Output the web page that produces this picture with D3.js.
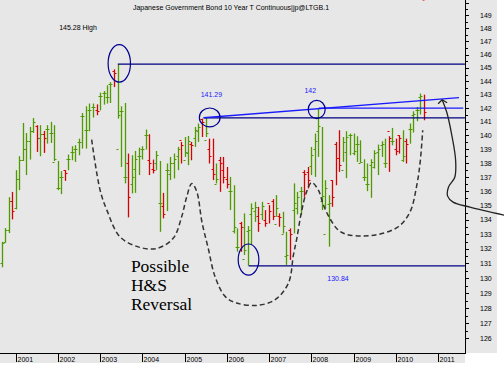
<!DOCTYPE html>
<html><head><meta charset="utf-8">
<script src="https://cdn.jsdelivr.net/npm/d3@7"></script>
<style>html,body{margin:0;padding:0;background:#fff}svg{display:block}</style>
</head><body>
<svg id="c" width="504" height="369"></svg>
<script>
// ---- data (monthly bars, Sep 2000 .. Sep 2010) ----
const startMonth = new Date(2000, 8, 1);
const opens = [131.0,132.45,133.3,135.3,134.8,136.9,138.2,139.0,139.6,140.3,140.7,139.8,140.1,140.5,140.2,138.1,
 136.2,137.0,137.5,138.3,138.8,139.0,139.5,141.4,140.4,141.9,142.1,141.85,142.9,143.1,142.8,143.8,144.8,139.0,141.8,137.0,138.0,136.5,137.6,
 138.5,139.0,140.0,138.2,137.6,138.0,135.2,135.0,137.5,137.2,138.0,138.5,139.7,138.2,138.7,139.4,139.8,140.3,141.2,
 139.7,139.0,137.6,136.5,138.2,137.5,136.9,136.0,133.2,132.1,133.8,131.3,133.2,134.4,134.6,134.3,134.4,134.0,135.2,135.3,
 133.7,134.3,133.0,131.5,133.3,134.7,134.8,136.0,137.4,137.4,137.8,139.0,140.3,135.3,133.0,135.1,136.8,139.4,138.4,137.5,
 138.8,140.0,138.7,139.4,138.0,137.0,136.5,137.9,137.7,138.8,139.3,138.0,140.3,139.6,139.0,140.0,138.2,139.6,140.5,141.5,141.9,142.8];
const highs = [132.48,133.43,135.59,135.96,137.50,138.50,140.91,140.18,140.62,141.28,140.75,140.75,140.33,140.75,140.99,140.75,
 138.16,137.43,137.50,138.62,139.22,139.29,139.77,141.64,142.14,142.34,142.34,142.28,143.15,143.27,143.69,143.93,144.89,145.28,142.14,142.38,
 138.69,138.57,138.88,139.12,139.22,140.43,140.09,138.26,138.88,138.16,135.89,137.98,138.45,138.69,139.17,139.53,139.89,139.96,139.53,140.62,
 140.87,141.23,141.29,139.77,139.77,137.98,138.45,138.45,137.73,137.02,136.43,133.41,133.86,134.45,133.57,135.15,135.26,134.91,135.26,134.68,
 135.03,135.45,135.73,134.45,134.56,133.17,133.41,136.56,135.96,136.31,137.50,137.73,139.17,140.14,142.00,140.62,136.79,135.73,136.79,139.53,
 140.38,139.89,140.31,140.14,140.14,139.94,139.65,138.28,137.98,138.28,138.93,139.34,139.58,139.77,139.94,140.55,139.77,140.02,140.38,139.77,
 140.87,141.77,142.09,143.08,143.00];
const lows = [130.74,132.42,133.08,134.03,134.73,136.08,138.16,137.15,138.26,140.18,138.81,138.50,138.74,139.41,139.46,138.16,
 136.08,135.80,136.74,137.50,138.21,138.09,138.57,139.05,139.05,140.31,141.31,141.48,141.84,142.26,142.34,142.38,143.56,141.23,137.73,136.56,
 134.17,135.85,135.89,137.15,138.26,138.98,137.15,137.27,137.50,133.17,134.10,134.61,136.79,136.91,137.50,137.98,138.45,137.86,138.21,139.17,
 139.53,139.89,139.89,137.98,136.79,136.56,135.96,136.56,136.20,134.68,133.06,131.80,131.80,131.58,130.84,132.26,133.86,133.17,133.98,133.52,
 133.75,133.98,134.21,133.52,133.06,130.90,131.24,133.06,134.38,134.33,135.61,136.20,137.15,137.02,138.45,134.68,134.80,132.15,134.91,136.43,
 137.38,138.09,136.93,138.57,138.57,138.09,138.05,136.72,136.01,135.54,137.62,137.15,138.45,137.66,137.38,139.29,138.57,138.69,138.09,137.98,
 139.41,140.21,141.04,141.53,141.11];
const closes = [132.4,133.3,135.3,134.6,136.9,138.2,139.0,139.6,140.3,141.0,139.8,140.1,139.8,140.5,140.2,138.3,
 136.2,137.0,137.3,138.3,138.8,139.0,139.5,141.4,140.4,141.9,142.1,141.8,142.9,143.1,142.8,143.8,144.6,141.5,141.8,137.0,
 135.6,137.0,138.3,138.5,139.0,140.0,138.0,137.5,138.6,135.2,134.4,137.5,138.0,138.3,139.0,139.3,138.8,139.6,139.3,140.4,
 140.6,141.0,140.2,138.5,137.2,136.9,138.0,137.0,136.5,136.0,133.5,132.1,133.5,131.9,133.3,134.8,134.9,133.8,135.0,133.8,
 134.6,134.3,134.8,134.2,133.6,131.6,133.0,135.2,135.6,136.0,137.2,136.8,138.6,139.6,140.7,135.7,136.2,135.2,135.6,138.4,
 137.9,139.5,139.9,140.0,138.9,139.4,138.1,137.0,136.5,138.1,138.7,139.0,139.4,138.0,139.8,139.6,138.9,139.8,138.5,139.4,
 140.5,141.6,141.9,142.9,141.7];
const yTickValues = d3.range(126, 150);
const yearTicks = d3.range(2001, 2012);
const titleText = "Japanese Government Bond 10 Year T Continuous|jp@LTGB.1";

// annotations in data units: [decimal year, price]
const hsPath = [[2002.80,139.70],[2003.00,136.08],[2003.16,134.68],[2003.47,132.83],[2003.94,132.10],[2004.35,132.03],
 [2004.73,132.72],[2004.93,134.21],[2005.05,135.61],[2005.17,136.56],[2005.29,135.96],[2005.41,133.86],[2005.56,132.03],
 [2005.72,130.12],[2005.96,128.78],[2006.23,128.34],[2006.71,128.18],[2007.14,128.55],[2007.46,129.67],[2007.58,131.6],
 [2007.66,132.72],[2007.77,134.56],[2007.89,135.96],[2008.01,136.63],[2008.17,136.08],[2008.29,135.03],[2008.44,134.10],
 [2008.64,133.29],[2008.84,132.99],[2009.23,132.88],[2009.59,132.99],[2010.06,133.52],[2010.34,134.56],[2010.50,136.43],
 [2010.58,138.09],[2010.64,140.38]];
const arrowPath = [[2012.57,134.33],[2011.76,134.89],[2011.36,135.24],[2011.23,135.66],[2011.25,136.29],[2011.40,137.0],
 [2011.42,138.21],[2011.33,140.01],[2011.21,141.70],[2011.10,142.62]];
const ellipses = [[2003.19,2003.72,146.76,143.93],[2005.35,2005.84,142.01,140.62],[2007.93,2008.33,142.58,141.23],[2006.27,2006.76,132.33,130.21]];
const levelLines = [{from:2003.42,to:2011.64,p:145.28,c:"#000080"},{from:2005.45,to:2011.64,p:141.29,c:"#000080"},
 {from:2008.18,to:2011.60,p:142.0,c:"#1a1aff"},{from:2006.52,to:2011.64,p:130.84,c:"#000080"}];
const trendLine = [[2005.45,141.29],[2011.50,142.78]];
const labels = [{t:2002.03,p:148.10,s:"145.28 High",c:"#000"},{t:2005.38,p:143.02,s:"141.29",c:"#1a1aff"},
 {t:2007.84,p:143.32,s:"142",c:"#1a1aff"},{t:2008.38,p:130.0,s:"130.84",c:"#1a1aff"}];
const hsText = ["Possible","H&S","Reversal"];

// ---- drawing ----
const svg = d3.select("#c");
const W = 504, H = 369, axisX = 465, axisY = 353;
const x = d3.scaleTime().domain([new Date(2001,0,1), new Date(2011,0,1)]).range([15.7, 437.9]);
const y = d3.scaleLog().domain([125.05, 150.2]).range([axisY, 0]);
const dy = t => { const yr = Math.floor(t); const s = new Date(yr,0,1), e = new Date(yr+1,0,1); return new Date(+s + (t-yr)*(e-s)); };
const X = t => x(dy(t));

svg.append("rect").attr("x",0).attr("y",0).attr("width",W).attr("height",H).attr("fill","#fff");
svg.append("rect").attr("x",0).attr("y",0).attr("width",axisX).attr("height",363).attr("fill","#e7e7e7");
svg.append("rect").attr("x",axisX).attr("y",0).attr("width",32).attr("height",axisY).attr("fill","#e7e7e7");

// title
svg.append("text").attr("x",231).attr("y",9.5).attr("text-anchor","middle")
  .attr("font-family","Liberation Sans, Arial, sans-serif").attr("font-size",7).attr("fill","#000").text(titleText);

const months = d3.timeMonth.range(startMonth, new Date(2010, 9, 1));
const bars = months.map((m,i)=>({m, o:opens[i], h:highs[i], l:lows[i], c:closes[i]}));
const green = "#4f9a00", red = "#d80000";
const g = svg.append("g");
bars.forEach(b => {
  const cx = Math.round(x(b.m)) + 0.5;
  const col = b.c >= b.o ? green : red;
  g.append("line").attr("x1",cx).attr("x2",cx).attr("y1",y(b.h)).attr("y2",y(b.l)).attr("stroke",col).attr("stroke-width",1.3);
  g.append("line").attr("x1",cx-2).attr("x2",cx).attr("y1",Math.round(y(b.o))+0.5).attr("y2",Math.round(y(b.o))+0.5).attr("stroke",col).attr("stroke-width",1);
  g.append("line").attr("x1",cx).attr("x2",cx+2).attr("y1",Math.round(y(b.c))+0.5).attr("y2",Math.round(y(b.c))+0.5).attr("stroke",col).attr("stroke-width",1);
});

// level lines
levelLines.forEach(l => {
  svg.append("line").attr("x1",X(l.from)).attr("x2",Math.min(X(l.to),axisX)).attr("y1",y(l.p)).attr("y2",y(l.p))
    .attr("stroke",l.c).attr("stroke-width",1.3);
});
svg.append("line").attr("x1",X(trendLine[0][0])).attr("y1",y(trendLine[0][1])).attr("x2",X(trendLine[1][0])).attr("y2",y(trendLine[1][1]))
  .attr("stroke","#1a1aff").attr("stroke-width",1.4);

// ellipses
ellipses.forEach(e => {
  const x1 = X(e[0]), x2 = X(e[1]), y1 = y(e[2]), y2 = y(e[3]);
  svg.append("ellipse").attr("cx",(x1+x2)/2).attr("cy",(y1+y2)/2).attr("rx",(x2-x1)/2).attr("ry",(y2-y1)/2)
    .attr("fill","none").attr("stroke","#000090").attr("stroke-width",1.2);
});

// dashed H&S path
const line = d3.line().x(d=>X(d[0])).y(d=>y(d[1])).curve(d3.curveCatmullRom.alpha(0.5));
svg.append("path").attr("d",line(hsPath)).attr("fill","none").attr("stroke","#333").attr("stroke-width",1.5).attr("stroke-dasharray","5,3");

// labels
labels.forEach(l => {
  svg.append("text").attr("x",X(l.t)).attr("y",y(l.p)).attr("dy","0.35em").attr("font-family","Liberation Sans, Arial, sans-serif")
   .attr("font-size",7).attr("fill",l.c).text(l.s);
});
hsText.forEach((s,i) => {
  svg.append("text").attr("x",X(2003.73)).attr("y",y([130.41,129.16,127.89][i])).attr("font-family","Liberation Serif, Times New Roman, serif")
    .attr("font-size",17.5).attr("fill","#000").text(s);
});

// right axis
svg.append("line").attr("x1",axisX+0.5).attr("x2",axisX+0.5).attr("y1",0).attr("y2",axisY).attr("stroke","#000").attr("stroke-width",1);
d3.range(126, 150.5, 0.5).forEach(v => {
  const yy = Math.round(y(v))+0.5;
  svg.append("line").attr("x1",axisX).attr("x2",axisX + (v%1===0?4:3)).attr("y1",yy).attr("y2",yy).attr("stroke","#000");
});
yTickValues.forEach(v => {
  svg.append("text").attr("x",480).attr("y",y(v)).attr("dy","0.35em").attr("font-family","Liberation Sans, Arial, sans-serif")
    .attr("font-size",7).attr("fill","#000").text(v);
});

// bottom axis
svg.append("line").attr("x1",0).attr("x2",axisX+1).attr("y1",axisY+0.5).attr("y2",axisY+0.5).attr("stroke","#000");
yearTicks.forEach(yr => {
  const xx = Math.round(x(new Date(yr,0,1)))+0.5;
  svg.append("line").attr("x1",xx).attr("x2",xx).attr("y1",axisY).attr("y2",362).attr("stroke","#000");
  svg.append("text").attr("x",xx+1).attr("y",361.5).attr("font-family","Liberation Sans, Arial, sans-serif")
    .attr("font-size",7).attr("fill","#000").text(yr);
});

// arrow
const aline = d3.line().x(d=>X(d[0])).y(d=>y(d[1])).curve(d3.curveCatmullRom.alpha(0.5));
svg.append("path").attr("d",aline(arrowPath)).attr("fill","none").attr("stroke","#222").attr("stroke-width",1.3);
const tip = arrowPath[arrowPath.length-1];
const tx = X(tip[0]), ty = y(tip[1]);
svg.append("path").attr("d",`M${tx-4},${ty+4}L${tx},${ty}L${tx+5},${ty+3}`).attr("fill","none").attr("stroke","#222").attr("stroke-width",1.3);
</script>
</body></html>
